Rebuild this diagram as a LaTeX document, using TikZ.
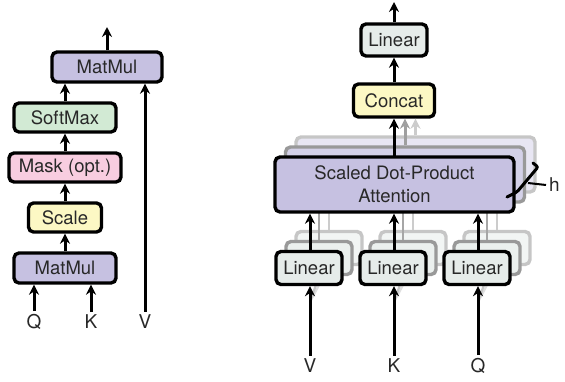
\documentclass[tikz,border=0pt]{standalone}
\usepackage{fontspec}
\setmainfont{TeX Gyre Heros}
\usepackage{tikz}
\usetikzlibrary{arrows.meta,positioning}
\definecolor{attpurple}{RGB}{198,193,225}
\definecolor{attgreen}{RGB}{210,234,212}
\definecolor{attpink}{RGB}{248,205,224}
\definecolor{attyellow}{RGB}{252,248,196}
\definecolor{attgrey}{RGB}{230,236,234}
\definecolor{atttext}{RGB}{40,40,40}
\tikzstyle{box} = [draw, line width=3.4pt, rounded corners=5pt, inner sep=0pt, text=atttext, font=\fontsize{18.5}{23}\selectfont]
\tikzstyle{ghost} = [box, draw=gray!80, text opacity=0]
\tikzstyle{ghostfar} = [box, draw=gray!45, text opacity=0]
\tikzstyle{arrow} = [line width=3pt, -{Stealth[length=10pt,width=10pt]}]
\tikzstyle{lbl} = [text=atttext, font=\fontsize{19}{22}\selectfont, inner sep=3pt]

\begin{document}
\begin{tikzpicture}[x=1pt,y=-1pt]
\useasboundingbox (0,0) rectangle (565,381);

% Scaled dot-product attention
\node[box, fill=attpurple, minimum width=110, minimum height=30] (mmtop) at (107,67) {MatMul};
\node[box, fill=attgreen, minimum width=102, minimum height=29] (softmax) at (65,117.5) {SoftMax};
\node[box, fill=attpink, minimum width=112, minimum height=29] (mask) at (65,167.5) {Mask (opt.)};
\node[box, fill=attyellow, minimum width=73, minimum height=29] (scale) at (65,217.5) {Scale};
\node[box, fill=attpurple, minimum width=102, minimum height=30] (mmbot) at (65,268) {MatMul};

\node[lbl] (q) at (34,322) {Q};
\node[lbl] (k) at (91,322) {K};
\node[lbl] (v) at (145,322) {V};
\coordinate (outl) at (107,27);

\draw[arrow] (q.north) -- (q.north |- mmbot.south);
\draw[arrow] (k.north) -- (k.north |- mmbot.south);
\draw[arrow] (v.north) -- (v.north |- mmtop.south);
\draw[arrow] (mmbot) -- (scale);
\draw[arrow] (scale) -- (mask);
\draw[arrow] (mask) -- (softmax);
\draw[arrow] (softmax.north) -- (softmax.north |- mmtop.south);
\draw[arrow] (mmtop) -- (outl);

% Multi-head attention
\node[box, fill=attgrey, minimum width=66, minimum height=32] (linear) at (394,40) {Linear};
\node[box, fill=attyellow, minimum width=81, minimum height=33] (concat) at (394,100.5) {Concat};
\coordinate (outr) at (394,2);

% heads behind
\node[ghostfar, fill=attpurple!40, minimum width=239, minimum height=55] (att2) at (415.5,164.5) {};
\node[ghost, fill=attpurple!75, minimum width=239, minimum height=55] (att1) at (405,174.5) {};
\draw[arrow, gray!40] (att2.north) -- (att2.north |- concat.south);
\draw[arrow, gray!75] (att1.north) -- (att1.north |- concat.south);

\foreach \n/\x in {v/309,k/393,q/477} {
  \node[ghostfar, fill=attgrey!50, minimum width=66, minimum height=33] (lin\n2) at (\x+20,248) {};
  \node[ghost, fill=attgrey!80, minimum width=66, minimum height=33] (lin\n1) at (\x+10,258) {};
  \draw[line width=2.6pt, gray!40] (lin\n2.north) -- (lin\n2.north |- att2.south);
  \draw[line width=2.6pt, gray!70] (lin\n1.north) -- (lin\n1.north |- att1.south);
  \coordinate (fork\n) at (\x+1,302);
  \draw[line width=2.2pt, gray!25] (fork\n) -- (lin\n2.south);
  \draw[line width=2.2pt, gray!45] (fork\n) -- (lin\n1.south);
}

\node[box, fill=attpurple, minimum width=239, minimum height=55, align=center] (att) at (394.5,184.5) {Scaled Dot-Product\\Attention};

\foreach \n/\x/\t in {v/309/V,k/393/K,q/477/Q} {
  \node[box, fill=attgrey, minimum width=66, minimum height=33] (lin\n) at (\x,268) {Linear};
  \node[lbl] (in\n) at (\x+1,366) {\t};
  \draw[arrow] (in\n.north) -- (in\n.north |- lin\n.south);
  \draw[arrow] (in\n.north |- lin\n.north) -- (in\n.north |- att.south);
}

\draw[arrow] (394,157) -- (concat.south);
\draw[arrow] (concat) -- (linear);
\draw[arrow] (linear) -- (outr);

% brace for h heads
\draw[line width=3pt, rounded corners=2pt, line cap=round] (533,163) -- (538,167) -- (517,192) -- (507,197);
\coordinate (bmid) at (528,183);
\node[lbl, anchor=west] (h) at (546,185) {h};
\draw[line width=2pt] (bmid) -- (h.west);
\end{tikzpicture}
\end{document}
